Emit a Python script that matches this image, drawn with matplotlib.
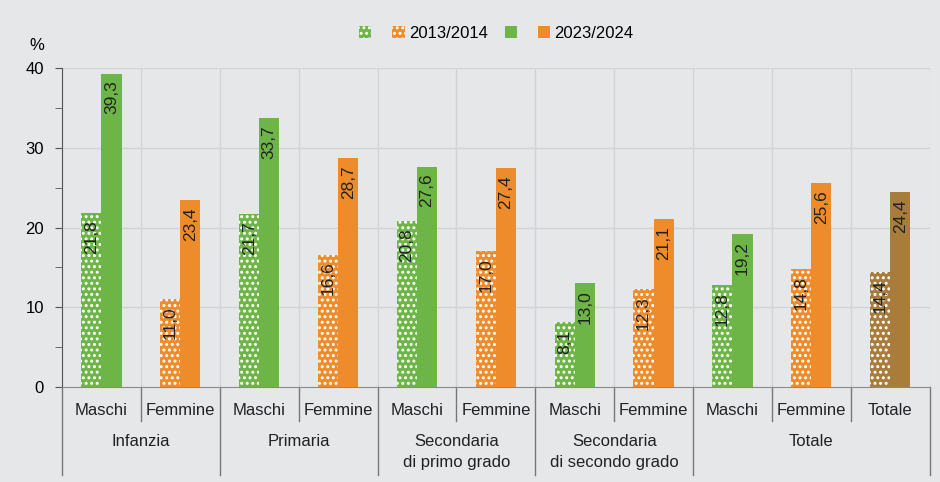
import matplotlib.pyplot as plt
import numpy as np
from matplotlib.patches import Patch

plt.rcParams['font.family'] = ['Liberation Sans', 'DejaVu Sans']
plt.rcParams['hatch.linewidth'] = 1.4

# data
sub_labels = ['Maschi', 'Femmine', 'Maschi', 'Femmine', 'Maschi', 'Femmine',
              'Maschi', 'Femmine', 'Maschi', 'Femmine', 'Totale']
groups = ['Infanzia', 'Primaria', 'Secondaria\ndi primo grado',
          'Secondaria\ndi secondo grado', 'Totale']
group_sizes = [2, 2, 2, 2, 3]
val_2013 = [21.8, 11.0, 21.7, 16.6, 20.8, 17.0, 8.1, 12.3, 12.8, 14.8, 14.4]
val_2023 = [39.3, 23.4, 33.7, 28.7, 27.6, 27.4, 13.0, 21.1, 19.2, 25.6, 24.4]
years = ['2013/2014', '2023/2024']

green = '#6db546'
orange = '#ee8c2b'
brown = '#a87c3a'
bg = '#e6e7e9'
grid_c = '#d2d3d6'
colors = []
for s in sub_labels:
    if s == 'Maschi':
        colors.append(green)
    elif s == 'Femmine':
        colors.append(orange)
    else:
        colors.append(brown)

fig = plt.figure(figsize=(9.4, 4.82), dpi=100, facecolor=bg)
ax = fig.add_axes([0.066, 0.197, 0.923, 0.662])
ax.set_facecolor(bg)

n = len(sub_labels)
x = np.arange(n)
w = 0.255

b1 = ax.bar(x - w / 2, val_2013, w, color=colors, hatch='...',
            edgecolor='white', linewidth=0, zorder=3)
b2 = ax.bar(x + w / 2, val_2023, w, color=colors, linewidth=0, zorder=3)

def fmt(v):
    return ('%.1f' % v).replace('.', ',')

for bars, vals in [(b1, val_2013), (b2, val_2023)]:
    for b, v in zip(bars, vals):
        ax.annotate(fmt(v), (b.get_x() + b.get_width() / 2, v),
                    xytext=(0, -5), textcoords='offset points',
                    rotation=90, ha='center', va='top', fontsize=12.5,
                    color='#222222', zorder=4)

ax.set_xlim(-0.5, n - 0.5)
ax.set_ylim(0, 40)
ax.set_yticks([0, 10, 20, 30, 40])
ax.set_yticks(np.arange(0, 41, 5), minor=True)
ax.tick_params(axis='y', which='both', length=5, color='#555555',
               labelsize=12, pad=8)
ax.set_xticks([])

# grid
for yv in [10, 20, 30, 40]:
    ax.axhline(yv, color=grid_c, lw=1, zorder=1)
for xv in np.arange(-0.5, n, 1):
    ax.axvline(xv, color=grid_c, lw=1, zorder=1)

for s in ['top', 'right']:
    ax.spines[s].set_visible(False)
ax.spines['left'].set_color('#555555')
ax.spines['bottom'].set_color('#8a8a8a')

fig.text(37 / 940, 1 - 45 / 482, '%', fontsize=12, ha='center', va='center')

# two-level category axis
trans = ax.get_xaxis_transform()
for i, s in enumerate(sub_labels):
    ax.text(i, -0.075, s, transform=trans, ha='center', va='center',
            fontsize=12, color='#222222')
start = 0
bounds = [-0.5]
for g, size in zip(groups, group_sizes):
    ax.text(start + (size - 1) / 2, -0.148, g, transform=trans, ha='center',
            va='top', fontsize=12, color='#222222', linespacing=1.45)
    for k in range(1, size):
        ax.plot([start + k - 0.5] * 2, [0, -0.105], transform=trans,
                color='#777777', lw=1, clip_on=False)
    start += size
    bounds.append(start - 0.5)
for bx in bounds:
    ax.plot([bx, bx], [0, -0.275], transform=trans, color='#777777', lw=1,
            clip_on=False)

# legend
handles = [Patch(facecolor=green, hatch='...', edgecolor='white', lw=0),
           Patch(facecolor=orange, hatch='...', edgecolor='white', lw=0),
           Patch(facecolor=green, lw=0),
           Patch(facecolor=orange, lw=0)]
labels = ['', years[0], '', years[1]]
fig.legend(handles, labels, loc='center', bbox_to_anchor=(0.528, 0.931),
           ncol=4, frameon=False, fontsize=12, handlelength=0.75,
           handleheight=0.75, handletextpad=0.25, columnspacing=1.0)

fig.savefig('out.png', dpi=100, facecolor=bg)
